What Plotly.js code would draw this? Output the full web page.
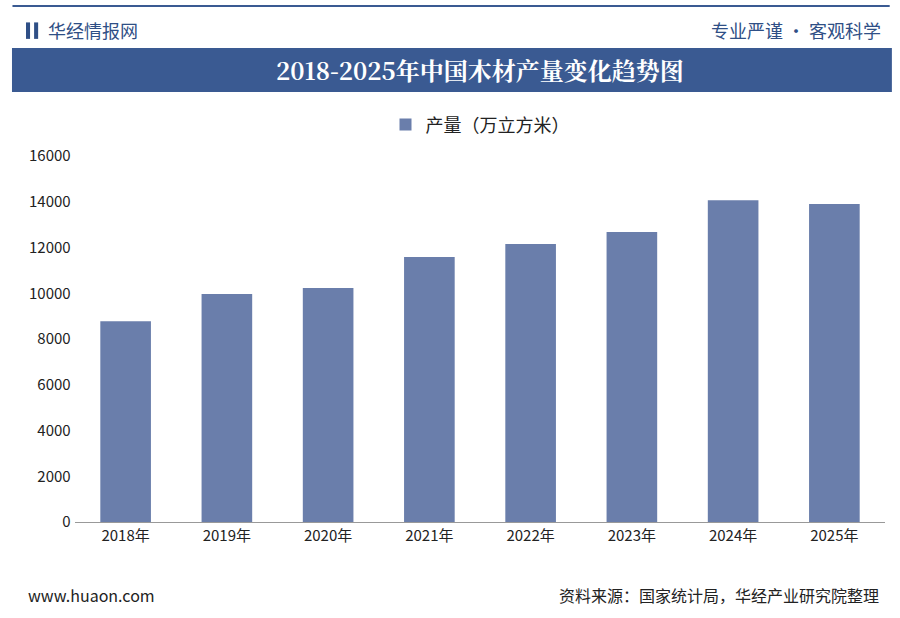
<!DOCTYPE html>
<html><head><meta charset="utf-8">
<script src="https://cdn.plot.ly/plotly-3.0.1.min.js"></script>
<style>body{margin:0;background:#fff}#c{width:900px;height:618px}</style>
</head><body><div id="c"></div>
<script>
const years = ['2018年','2019年','2020年','2021年','2022年','2023年','2024年','2025年'];
const output = [8780, 9970, 10230, 11590, 12150, 12680, 14070, 13900];
const seriesName = '产量（万立方米）';
const font = 'Noto Sans CJK SC, sans-serif';
const layout = {
  width: 900, height: 618,
  paper_bgcolor: '#fff', plot_bgcolor: '#fff',
  margin: {l: 75, r: 15, t: 156, b: 96},
  font: {family: font, size: 15, color: '#222'},
  showlegend: true,
  legend: {orientation: 'h', x: 0.5, xanchor: 'center', y: 1.085, yanchor: 'middle', yref: 'paper', font: {size: 18, color: '#222'}},
  xaxis: {showline: true, linecolor: '#999', ticks: 'outside', tickcolor: '#999', ticklen: 0, tickfont: {size: 15, color: '#222'}},
  yaxis: {range: [0, 16000], dtick: 2000, tickformat: 'd', showgrid: false, showline: false, zeroline: false, tickfont: {size: 15, color: '#222'}, ticksuffix: ' '},
  bargap: 0.5,
  shapes: [
    {type: 'line', xref: 'paper', yref: 'paper', x0: -0.0772, x1: 1.0058, y0: 1.41, y1: 1.41, line: {color: '#3a5a92', width: 2}},
    {type: 'rect', xref: 'paper', yref: 'paper', x0: -0.0778, x1: 1.0085, y0: 1.175, y1: 1.295, fillcolor: '#3a5a92', line: {width: 0}},
    {type: 'rect', xref: 'paper', yref: 'paper', x0: -0.0605, x1: -0.0555, y0: 1.32, y1: 1.365, fillcolor: '#2f4f86', line: {width: 0}},
    {type: 'rect', xref: 'paper', yref: 'paper', x0: -0.0505, x1: -0.0455, y0: 1.32, y1: 1.365, fillcolor: '#2f4f86', line: {width: 0}}
  ],
  annotations: [
    {text: '华经情报网', xref: 'paper', yref: 'paper', x: -0.036, y: 1.343, xanchor: 'left', yanchor: 'middle', showarrow: false, font: {size: 18, color: '#2f4f86'}},
    {text: '专业严谨 • 客观科学', xref: 'paper', yref: 'paper', x: 0.998, y: 1.343, xanchor: 'right', yanchor: 'middle', showarrow: false, font: {size: 18, color: '#2f4f86'}},
    {text: '<b>2018-2025年中国木材产量变化趋势图</b>', xref: 'paper', yref: 'paper', x: 0.5, y: 1.235, xanchor: 'center', yanchor: 'middle', showarrow: false, font: {size: 24, color: '#fff', family: 'Noto Serif CJK SC, Noto Sans CJK SC, serif'}},
    {text: 'www.huaon.com', xref: 'paper', yref: 'paper', x: -0.06, y: -0.2, xanchor: 'left', yanchor: 'middle', showarrow: false, font: {size: 16, color: '#222'}},
    {text: '资料来源：国家统计局，华经产业研究院整理', xref: 'paper', yref: 'paper', x: 0.995, y: -0.2, xanchor: 'right', yanchor: 'middle', showarrow: false, font: {size: 16, color: '#222'}}
  ]
};
Plotly.newPlot('c', [{type: 'bar', x: years, y: output, name: seriesName, marker: {color: '#6a7eab'}}], layout, {displayModeBar: false, staticPlot: true});
</script></body></html>
